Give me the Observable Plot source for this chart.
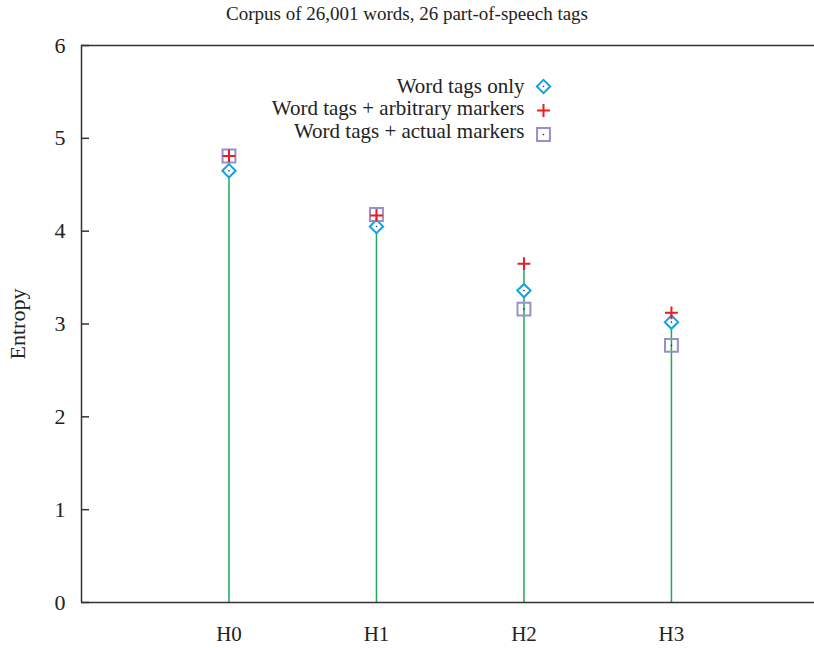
<!DOCTYPE html>
<html>
<head>
<meta charset="utf-8">
<script src="https://cdn.jsdelivr.net/npm/d3@7"></script>
<script src="https://cdn.jsdelivr.net/npm/@observablehq/plot@0.6"></script>
<style>
  body { margin: 0; background: #fff; font-family: "Liberation Serif", "DejaVu Serif", serif; }
  #title { height: 28px; line-height: 28px; text-align: center; font-size: 19px; color: #222; width: 814px; padding-left: 0px; box-sizing: border-box; }
</style>
</head>
<body>
<div id="title">Corpus of 26,001 words, 26 part-of-speech tags</div>
<div id="chart"></div>
<script>
const hLabels = ["H0", "H1", "H2", "H3"];
const wordTagsOnly = [4.65, 4.05, 3.36, 3.02];
const arbitraryMarkers = [4.81, 4.17, 3.65, 3.12];
const actualMarkers = [4.81, 4.18, 3.16, 2.77];
const seriesNames = ["Word tags only", "Word tags + arbitrary markers", "Word tags + actual markers"];
const yTicks = [0, 1, 2, 3, 4, 5, 6];
const yLabel = "Entropy";

const idx = hLabels.map((_, i) => i);
const colDiamond = "#10a3e3";
const colPlus = "#ec1b24";
const colSquare = "#9890c8";
const colImpulse = "#1fa85a";
const axisColor = "#333";
const font = "Liberation Serif, DejaVu Serif, serif";

const rDiamond = 6, rPlus = 4.2, rSquare = 8.2;

const legendRows = [
  {name: seriesNames[0], symbol: "diamond2", color: colDiamond, r: rDiamond, dot: true, ty: 41, sy: 41},
  {name: seriesNames[1], symbol: "plus", color: colPlus, r: rPlus, dot: false, ty: 63, sy: 65},
  {name: seriesNames[2], symbol: "square2", color: colSquare, r: rSquare, dot: true, ty: 86, sy: 89}
];

const legendMarks = legendRows.flatMap(row => {
  const m = [
    Plot.text([row.name], {frameAnchor: "top-left", dx: 443, dy: row.ty, textAnchor: "end", lineAnchor: "middle", fontSize: 21, letterSpacing: 0.5, fill: "#222", fontFamily: font}),
    Plot.dot([row.name], {frameAnchor: "top-left", dx: 462, dy: row.sy, symbol: row.symbol, r: row.r, stroke: row.color, strokeWidth: 2})
  ];
  if (row.dot) m.push(Plot.dot([row.name], {frameAnchor: "top-left", dx: 462, dy: row.sy, r: 0.8, fill: "#333", stroke: "none"}));
  return m;
});

const chart = Plot.plot({
  width: 814,
  height: 620,
  marginLeft: 81,
  marginRight: 0,
  marginTop: 17,
  marginBottom: 46,
  style: {fontFamily: font, background: "#fff"},
  x: {domain: [-1, 3.97]},
  y: {domain: [0, 6]},
  marks: [
    Plot.ruleX(idx, {x: i => i, y1: 0, y2: i => arbitraryMarkers[i], stroke: colImpulse, strokeWidth: 1.5}),
    Plot.dot(idx, {x: i => i, y: i => wordTagsOnly[i], symbol: "diamond2", r: rDiamond, stroke: colDiamond, strokeWidth: 2, fill: "white"}),
    Plot.dot(idx, {x: i => i, y: i => wordTagsOnly[i], r: 0.8, fill: "#333", stroke: "none"}),
    Plot.dot(idx, {x: i => i, y: i => actualMarkers[i], symbol: "square2", r: rSquare, stroke: colSquare, strokeWidth: 2}),
    Plot.dot(idx, {x: i => i, y: i => actualMarkers[i], r: 0.8, fill: "#333", stroke: "none"}),
    Plot.dot(idx, {x: i => i, y: i => arbitraryMarkers[i], symbol: "plus", r: rPlus, stroke: colPlus, strokeWidth: 2}),
    Plot.ruleX([-1], {stroke: axisColor, strokeWidth: 1.5}),
    Plot.ruleY([0, 6], {stroke: axisColor, strokeWidth: 1.5}),
    Plot.axisX({ticks: idx, tickFormat: i => hLabels[i], tickSize: 0, tickPadding: 24, fontSize: 21, label: null, fill: "#222"}),
    Plot.axisY({ticks: yTicks, tickFormat: d => String(d), tickSize: -8, tickPadding: 24, fontSize: 22, label: null, stroke: axisColor, strokeWidth: 1.5, fill: "#222"}),
    Plot.text([yLabel], {frameAnchor: "left", rotate: -90, dx: -64, textAnchor: "middle", fontSize: 22, fill: "#222", fontFamily: font}),
    ...legendMarks
  ]
});
document.getElementById("chart").appendChild(chart);
</script>
</body>
</html>
